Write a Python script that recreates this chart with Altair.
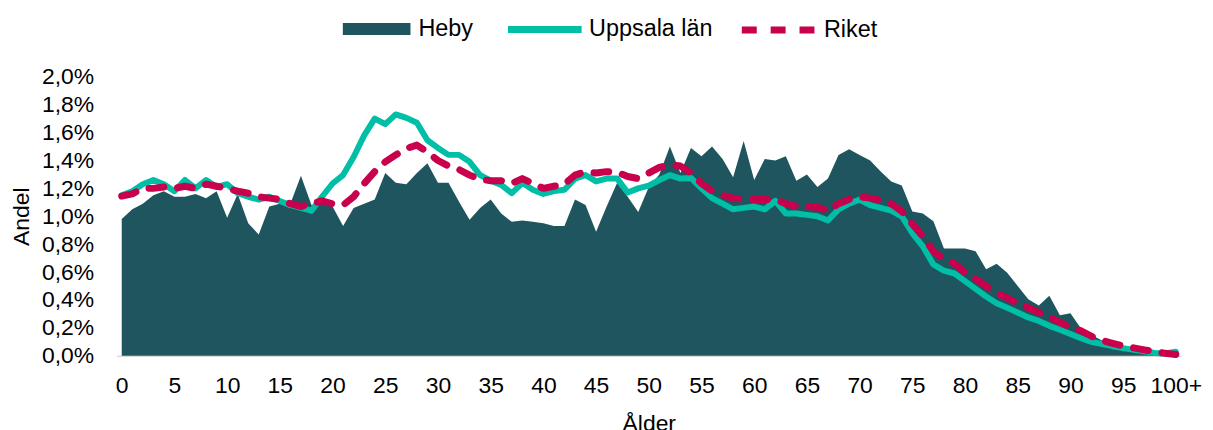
import altair as alt
import pandas as pd

ages = list(range(0, 101))

heby = [0.98, 1.05, 1.09, 1.15, 1.18, 1.14, 1.14, 1.16, 1.13, 1.18,
        0.99, 1.16, 0.95, 0.87, 1.07, 1.09, 1.09, 1.29, 1.08, 1.09,
        1.07, 0.93, 1.06, 1.09, 1.12, 1.31, 1.24, 1.23, 1.31, 1.38,
        1.24, 1.24, 1.105, 0.975, 1.06, 1.12, 1.02, 0.96, 0.97, 0.96,
        0.95, 0.93, 0.93, 1.12, 1.08, 0.89, 1.07, 1.24, 1.14, 1.03,
        1.21, 1.30, 1.50, 1.31, 1.49, 1.43, 1.50, 1.41, 1.28, 1.54,
        1.26, 1.41, 1.40, 1.43, 1.255, 1.30, 1.21, 1.27, 1.44, 1.48,
        1.44, 1.40, 1.32, 1.25, 1.22, 1.035, 1.02, 0.965, 0.77, 0.77,
        0.77, 0.75, 0.62, 0.66, 0.595, 0.50, 0.405, 0.36, 0.43, 0.29,
        0.305, 0.195, 0.15, 0.11, 0.08, 0.06, 0.045, 0.03, 0.02, 0.01,
        0.005]

uppsala = [1.15, 1.18, 1.23, 1.26, 1.23, 1.18, 1.26, 1.20, 1.26, 1.21,
           1.23, 1.165, 1.14, 1.12, 1.14, 1.11, 1.08, 1.06, 1.04, 1.14,
           1.235, 1.295, 1.425, 1.58, 1.70, 1.66, 1.73, 1.705, 1.67, 1.545,
           1.49, 1.44, 1.44, 1.39, 1.295, 1.255, 1.225, 1.165, 1.24, 1.19,
           1.16, 1.18, 1.19, 1.27, 1.295, 1.25, 1.27, 1.27, 1.17, 1.20,
           1.22, 1.26, 1.295, 1.27, 1.275, 1.20, 1.13, 1.09, 1.05, 1.06,
           1.07, 1.05, 1.11, 1.02, 1.02, 1.01, 1.00, 0.97, 1.05, 1.09,
           1.12, 1.08, 1.06, 1.04, 1.00, 0.88, 0.785, 0.655, 0.61, 0.59,
           0.535, 0.48, 0.425, 0.377, 0.345, 0.31, 0.275, 0.25, 0.215, 0.187,
           0.157, 0.126, 0.10, 0.085, 0.069, 0.055, 0.043, 0.033, 0.021, 0.017,
           0.03]

riket = [1.145, 1.16, 1.20, 1.20, 1.21, 1.20, 1.215, 1.20, 1.23, 1.215,
         1.20, 1.18, 1.165, 1.14, 1.13, 1.12, 1.09, 1.07, 1.09, 1.11,
         1.09, 1.08, 1.14, 1.235, 1.32, 1.39, 1.44, 1.485, 1.51, 1.46,
         1.40, 1.36, 1.335, 1.295, 1.265, 1.255, 1.255, 1.235, 1.27, 1.235,
         1.20, 1.215, 1.23, 1.295, 1.32, 1.31, 1.32, 1.315, 1.285, 1.27,
         1.31, 1.35, 1.37, 1.36, 1.31, 1.235, 1.18, 1.15, 1.13, 1.12,
         1.12, 1.12, 1.12, 1.09, 1.07, 1.07, 1.065, 1.04, 1.09, 1.12,
         1.14, 1.13, 1.115, 1.09, 1.035, 0.945, 0.855, 0.75, 0.69, 0.66,
         0.595, 0.55, 0.50, 0.45, 0.415, 0.375, 0.345, 0.31, 0.275, 0.24,
         0.205, 0.18, 0.14, 0.11, 0.09, 0.07, 0.057, 0.043, 0.03, 0.018,
         0.01]

y_ticks = [0.0, 0.2, 0.4, 0.6, 0.8, 1.0, 1.2, 1.4, 1.6, 1.8, 2.0]
x_ticks = list(range(0, 101, 5))

C_HEBY = "#1F555E"
C_UPP = "#00BFA6"
C_RIK = "#C9004B"
FONT = "Liberation Sans"
FS = 23
LFS = 23.5

df_h = pd.DataFrame({"alder": ages, "v": heby, "h": "Heby"})
df_u = pd.DataFrame({"alder": ages, "v": uppsala, "u": "Uppsala län"})
df_r = pd.DataFrame({"alder": ages, "v": riket, "r": "Riket"})

x_scale = alt.Scale(domain=[-0.5, 100.5], nice=False, zero=False)
y_scale = alt.Scale(domain=[0, 2.0], nice=False)

x_axis = alt.Axis(
    values=x_ticks,
    labelExpr="datum.value == 100 ? '100+' : datum.label",
    title="Ålder",
    grid=False,
    ticks=False,
    domainColor="#D9D9D9",
    domainWidth=1.5,
    labelPadding=19,
    titlePadding=15,
    labelFlush=False,
    labelOverlap=False,
)
y_axis = alt.Axis(
    values=y_ticks,
    labelExpr="replace(format(datum.value, '.1f'), '.', ',') + '%'",
    title="Andel",
    grid=False,
    ticks=False,
    domain=False,
    labelPadding=23,
    titlePadding=8,
    labelOverlap=False,
)

area = alt.Chart(df_h).mark_area(interpolate="linear").encode(
    x=alt.X("alder:Q", scale=x_scale, axis=x_axis),
    y=alt.Y("v:Q", scale=y_scale, axis=y_axis),
    fill=alt.Fill(
        "h:N",
        scale=alt.Scale(domain=["Heby"], range=[C_HEBY]),
        legend=alt.Legend(
            orient="none", legendX=227.5, legendY=-82, title=None,
            symbolType="M-1,-0.175H1V0.175H-1Z", symbolSize=4624,
            symbolStrokeWidth=0, symbolOpacity=1, labelOffset=8,
        ),
    ),
)

line_u = alt.Chart(df_u).mark_line(strokeWidth=6, strokeJoin="round", strokeCap="round").encode(
    x=alt.X("alder:Q", scale=x_scale, axis=x_axis),
    y=alt.Y("v:Q", scale=y_scale, axis=y_axis),
    stroke=alt.Stroke(
        "u:N",
        scale=alt.Scale(domain=["Uppsala län"], range=[C_UPP]),
        legend=alt.Legend(
            orient="none", legendX=390, legendY=-88, title=None,
            symbolType="stroke", symbolSize=5476, symbolStrokeWidth=7,
            labelOffset=4,
        ),
    ),
)

line_r = alt.Chart(df_r).mark_line(
    strokeWidth=7, strokeCap="round", strokeJoin="round", color=C_RIK
).encode(
    x=alt.X("alder:Q", scale=x_scale, axis=x_axis),
    y=alt.Y("v:Q", scale=y_scale, axis=y_axis),
    strokeDash=alt.StrokeDash(
        "r:N",
        scale=alt.Scale(domain=["Riket"], range=[[15, 14]]),
        legend=alt.Legend(
            orient="none", legendX=625, legendY=-88, title=None,
            symbolType="stroke", symbolSize=5625, symbolStrokeWidth=7,
            symbolStrokeColor=C_RIK, symbolDash=[23, 8], labelOffset=4,
        ),
    ),
)

chart = (
    alt.layer(area, line_u, line_r)
    .properties(
        width=1070,
        height=280.5,
        padding={"left": 109, "top": 68, "right": 24, "bottom": 80},
        autosize=alt.AutoSizeParams(type="none"),
    )
    .configure_view(stroke=None)
    .configure_axis(
        labelFont=FONT, titleFont=FONT, labelFontSize=FS, titleFontSize=FS,
        labelColor="#000000", titleColor="#000000", titleFontWeight="normal",
        labelOverlap=False,
    )
    .configure_legend(
        labelFont=FONT, labelFontSize=LFS, labelColor="#000000", padding=0,
    )
)

chart.save("out.html", embed_options={"renderer": "svg", "actions": False})
